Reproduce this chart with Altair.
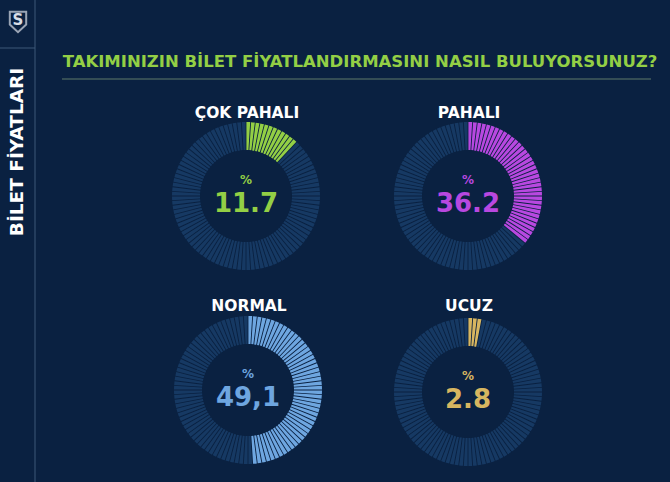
import altair as alt
import pandas as pd

# ---- data ----
categories = ["ÇOK PAHALI", "PAHALI", "NORMAL", "UCUZ"]
values = [11.7, 36.2, 49.1, 2.8]
value_labels = ["11.7", "36.2", "49,1", "2.8"]
colors = ["#93cf45", "#b848e0", "#6ea6e0", "#d7b660"]
title_text = "TAKIMINIZIN BİLET FİYATLANDIRMASINI NASIL BULUYORSUNUZ?"
side_text = "BİLET FİYATLARI"
n_segments = 100

# ---- layout / style ----
W, H = 670, 482
BG = "#0a2141"
UNFILLED = "#163963"
FONT = "DejaVu Sans"
centers = [(246, 196), (468, 196), (248, 390), (468, 392)]
label_y = [113, 113, 306, 306]
R_OUT, R_IN = 74, 46

layers = []

# sidebar lines
layers.append(alt.Chart(pd.DataFrame({"a": [0]})).mark_rule(color="#3d5878", strokeWidth=1).encode(
    x=alt.value(35), y=alt.value(0), y2=alt.value(H)))
layers.append(alt.Chart(pd.DataFrame({"a": [0]})).mark_rule(color="#3d5878", strokeWidth=1).encode(
    x=alt.value(0), x2=alt.value(35), y=alt.value(48)))
# title underline
layers.append(alt.Chart(pd.DataFrame({"a": [0]})).mark_rule(color="#5f7a6a", strokeWidth=1.2).encode(
    x=alt.value(62), x2=alt.value(651), y=alt.value(79)))

# logo: shield + S
shield = "M-0.8,-1 L0.8,-1 L0.8,0.25 L0,1 L-0.8,0.25 Z"
layers.append(alt.Chart(pd.DataFrame({"a": [0]})).mark_point(
    shape=shield, filled=False, stroke="#d8dde6", strokeWidth=2, size=420).encode(
    x=alt.value(18), y=alt.value(22)))
layers.append(alt.Chart(pd.DataFrame({"t": ["S"]})).mark_text(
    font=FONT, fontWeight="bold", fontSize=15, color="#d8dde6", baseline="middle", align="center").encode(
    x=alt.value(18), y=alt.value(20), text="t:N"))

# sidebar vertical text
layers.append(alt.Chart(pd.DataFrame({"t": [side_text]})).mark_text(
    font=FONT, fontWeight="bold", fontSize=18.5, color="#ffffff", angle=270,
    baseline="middle", align="center").encode(
    x=alt.value(17), y=alt.value(152), text="t:N"))

# title
layers.append(alt.Chart(pd.DataFrame({"t": [title_text]})).mark_text(
    font=FONT, fontWeight="bold", fontSize=16.5, color="#93cf45",
    baseline="middle", align="center").encode(
    x=alt.value(360), y=alt.value(62), text="t:N"))

for k, (cat, val, lab, col) in enumerate(zip(categories, values, value_labels, colors)):
    cx, cy = centers[k]
    n_fill = int(round(val))
    seg = pd.DataFrame({
        "idx": list(range(n_segments)),
        "one": [1] * n_segments,
        "filled": [i < n_fill for i in range(n_segments)],
    })
    arc = alt.Chart(seg).mark_arc(radius=R_OUT, radius2=R_IN, padAngle=0.01).encode(
        theta=alt.Theta("one:Q", stack=True, scale=alt.Scale(domain=[0, n_segments])),
        order=alt.Order("idx:Q"),
        color=alt.condition(alt.datum.filled, alt.value(col), alt.value(UNFILLED)),
        x=alt.value(cx), y=alt.value(cy),
    )
    layers.append(arc)
    layers.append(alt.Chart(pd.DataFrame({"t": [cat]})).mark_text(
        font=FONT, fontWeight="bold", fontSize=15.5, color="#ffffff",
        baseline="middle", align="center").encode(
        x=alt.value(cx + 1), y=alt.value(label_y[k]), text="t:N"))
    layers.append(alt.Chart(pd.DataFrame({"t": ["%"]})).mark_text(
        font=FONT, fontWeight="bold", fontSize=12, color=col,
        baseline="middle", align="center").encode(
        x=alt.value(cx), y=alt.value(cy - 16), text="t:N"))
    layers.append(alt.Chart(pd.DataFrame({"t": [lab]})).mark_text(
        font=FONT, fontWeight="bold", fontSize=26, color=col,
        baseline="middle", align="center").encode(
        x=alt.value(cx), y=alt.value(cy + 8), text="t:N"))

chart = alt.layer(*layers).properties(
    width=W, height=H, background=BG, padding=0,
    autosize=alt.AutoSizeParams(type="none"),
).configure_view(stroke=None)

chart.save("out.html", embed_options={"renderer": "svg", "actions": False})
